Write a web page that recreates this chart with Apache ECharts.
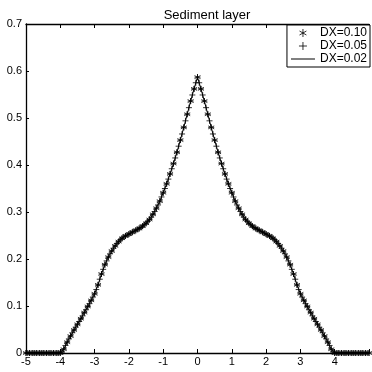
<!DOCTYPE html>
<html>
<head>
<meta charset="utf-8">
<script src="https://cdn.jsdelivr.net/npm/echarts@6/dist/echarts.min.js"></script>
<style>
  html, body { margin: 0; padding: 0; background: #fff; }
  #chart { width: 372px; height: 372px; }
</style>
</head>
<body>
<div id="chart"></div>
<script>
// Sediment layer thickness on three grid spacings, x from -5 to 5.
const titleText = 'Sediment layer';
const seriesNames = ['DX=0.10', 'DX=0.05', 'DX=0.02'];
const xTicks = [-5, -4, -3, -2, -1, 0, 1, 2, 3, 4];
const yTicks = [0, 0.1, 0.2, 0.3, 0.4, 0.5, 0.6, 0.7];

// DX = 0.10 solution, one value per grid node (101 nodes)
const layer010 = [
  0, 0, 0, 0, 0, 0, 0, 0, 0, 0, 0,
  0.008, 0.023, 0.036, 0.049, 0.061, 0.073, 0.086, 0.099, 0.112, 0.126,
  0.145, 0.168, 0.188, 0.204, 0.217, 0.228, 0.237, 0.244, 0.249, 0.253,
  0.257, 0.261, 0.265, 0.270, 0.276, 0.284, 0.295, 0.308, 0.323, 0.341,
  0.360, 0.381, 0.403, 0.427, 0.453, 0.480, 0.508, 0.536, 0.562,
  0.587,
  0.562, 0.536, 0.508, 0.480, 0.453, 0.427, 0.403, 0.381, 0.360,
  0.341, 0.323, 0.308, 0.295, 0.284, 0.276, 0.270, 0.265, 0.261, 0.257,
  0.253, 0.249, 0.244, 0.237, 0.228, 0.217, 0.204, 0.188, 0.168, 0.145,
  0.126, 0.112, 0.099, 0.086, 0.073, 0.061, 0.049, 0.036, 0.023, 0.008,
  0, 0, 0, 0, 0, 0, 0, 0, 0, 0, 0
];

// DX = 0.05 solution (201 nodes)
const layer005 = [
  0, 0, 0, 0, 0, 0, 0, 0, 0, 0, 0, 0, 0, 0, 0, 0, 0, 0, 0, 0, 0,
  0.002, 0.008, 0.016, 0.023, 0.030, 0.036, 0.043, 0.049, 0.055, 0.061,
  0.067, 0.073, 0.079, 0.086, 0.092, 0.099, 0.105, 0.112, 0.119, 0.126,
  0.135, 0.145, 0.157, 0.168, 0.178, 0.188, 0.196, 0.204, 0.211, 0.217,
  0.223, 0.228, 0.233, 0.237, 0.241, 0.244, 0.247, 0.249, 0.251, 0.253,
  0.255, 0.257, 0.259, 0.261, 0.263, 0.265, 0.267, 0.270, 0.273, 0.276,
  0.280, 0.284, 0.289, 0.295, 0.301, 0.308, 0.315, 0.323, 0.332, 0.341,
  0.350, 0.360, 0.370, 0.381, 0.392, 0.403, 0.415, 0.427, 0.440, 0.453,
  0.466, 0.480, 0.494, 0.508, 0.522, 0.536, 0.549, 0.562, 0.575,
  0.587,
  0.575, 0.562, 0.549, 0.536, 0.522, 0.508, 0.494, 0.480, 0.466,
  0.453, 0.440, 0.427, 0.415, 0.403, 0.392, 0.381, 0.370, 0.360, 0.350,
  0.341, 0.332, 0.323, 0.315, 0.308, 0.301, 0.295, 0.289, 0.284, 0.280,
  0.276, 0.273, 0.270, 0.267, 0.265, 0.263, 0.261, 0.259, 0.257, 0.255,
  0.253, 0.251, 0.249, 0.247, 0.244, 0.241, 0.237, 0.233, 0.228, 0.223,
  0.217, 0.211, 0.204, 0.196, 0.188, 0.178, 0.168, 0.157, 0.145, 0.135,
  0.126, 0.119, 0.112, 0.105, 0.099, 0.092, 0.086, 0.079, 0.073, 0.067,
  0.061, 0.055, 0.049, 0.043, 0.036, 0.030, 0.023, 0.016, 0.008, 0.002,
  0, 0, 0, 0, 0, 0, 0, 0, 0, 0, 0, 0, 0, 0, 0, 0, 0, 0, 0, 0, 0
];

// DX = 0.02 solution, sampled every 0.1 for the solid line (101 samples)
const layer002 = [
  0, 0, 0, 0, 0, 0, 0, 0, 0, 0, 0,
  0.008, 0.023, 0.036, 0.049, 0.061, 0.073, 0.086, 0.099, 0.112, 0.126,
  0.145, 0.168, 0.188, 0.204, 0.217, 0.228, 0.237, 0.244, 0.249, 0.253,
  0.257, 0.261, 0.265, 0.270, 0.276, 0.284, 0.295, 0.308, 0.323, 0.341,
  0.360, 0.381, 0.403, 0.427, 0.453, 0.480, 0.508, 0.536, 0.562,
  0.587,
  0.562, 0.536, 0.508, 0.480, 0.453, 0.427, 0.403, 0.381, 0.360,
  0.341, 0.323, 0.308, 0.295, 0.284, 0.276, 0.270, 0.265, 0.261, 0.257,
  0.253, 0.249, 0.244, 0.237, 0.228, 0.217, 0.204, 0.188, 0.168, 0.145,
  0.126, 0.112, 0.099, 0.086, 0.073, 0.061, 0.049, 0.036, 0.023, 0.008,
  0, 0, 0, 0, 0, 0, 0, 0, 0, 0, 0
];

// pair each value with its grid node x = -5 + i*step
function onGrid(values, step) {
  return values.map((v, i) => [+(-5 + i * step).toFixed(2), v]);
}

const STAR = 'path://M5,0L5,10M0.67,2.5L9.33,7.5M0.67,7.5L9.33,2.5';
const PLUS = 'path://M5,0L5,10M0,5L10,5';
const BAR = 'path://M0,0L24,0L24,1L0,1Z';
const FONT = "'Liberation Sans Narrow', 'Liberation Sans', Arial, sans-serif";

const strokeOnly = { color: 'rgba(0,0,0,0)', borderColor: '#000', borderWidth: 1 };

const chart = echarts.init(document.getElementById('chart'), null, { renderer: 'canvas' });

const frameLine = { show: true, onZero: false, lineStyle: { color: '#000', width: 1.3 } };

chart.setOption({
  animation: false,
  backgroundColor: '#fff',
  title: {
    text: titleText,
    left: 202, textAlign: 'center',
    top: 4,
    textStyle: { fontFamily: FONT, fontSize: 13, fontWeight: 'normal', color: '#000' }
  },
  legend: {
    orient: 'vertical',
    right: 2, top: 25,
    itemWidth: 24, itemHeight: 8, itemGap: 1,
    padding: [2, 3, 2, 4],
    borderColor: '#000', borderWidth: 1,
    backgroundColor: '#fff',
    textStyle: { fontFamily: FONT, fontSize: 12, color: '#000' },
    data: [
      { name: seriesNames[0], icon: STAR, itemStyle: strokeOnly },
      { name: seriesNames[1], icon: PLUS, itemStyle: strokeOnly },
      { name: seriesNames[2], icon: BAR, itemStyle: { color: '#000', borderWidth: 0 } }
    ]
  },
  grid: { left: 26, right: -1, top: 24, bottom: 19, containLabel: false },
  xAxis: [{
    type: 'value', min: -5, max: 5, interval: 1,
    axisLine: frameLine,
    axisTick: { show: true, inside: true, length: 4, lineStyle: { color: '#000' } },
    splitLine: { show: false },
    axisLabel: {
      margin: 3, color: '#000', fontFamily: FONT, fontSize: 11,
      formatter: v => (xTicks.indexOf(v) >= 0 ? String(v) : '')
    }
  }, {
    type: 'value', position: 'top', min: -5, max: 5, interval: 1,
    axisLine: frameLine,
    axisTick: { show: true, inside: true, length: 4, lineStyle: { color: '#000' } },
    splitLine: { show: false },
    axisLabel: { show: false }
  }],
  yAxis: {
    type: 'value', min: 0, max: 0.7, interval: 0.1,
    axisLine: frameLine,
    axisTick: { show: true, inside: true, length: 3, lineStyle: { color: '#000' } },
    splitLine: { show: false },
    axisLabel: {
      margin: 4, color: '#000', fontFamily: FONT, fontSize: 11,
      formatter: v => {
        const t = yTicks.find(k => Math.abs(k - v) < 1e-9);
        return t === undefined ? '' : (t === 0 ? '0' : t.toFixed(1));
      }
    }
  },
  series: [{
    name: seriesNames[2],
    type: 'line',
    data: onGrid(layer002, 0.1),
    showSymbol: false,
    lineStyle: { color: '#000', width: 1 },
    itemStyle: { color: '#000' },
    z: 3
  }, {
    name: seriesNames[1],
    type: 'scatter',
    data: onGrid(layer005, 0.05),
    symbol: PLUS, symbolSize: 6,
    itemStyle: strokeOnly,
    z: 4
  }, {
    name: seriesNames[0],
    type: 'scatter',
    data: onGrid(layer010, 0.1),
    symbol: STAR, symbolSize: 6,
    itemStyle: strokeOnly,
    z: 5
  }]
});
</script>
</body>
</html>
